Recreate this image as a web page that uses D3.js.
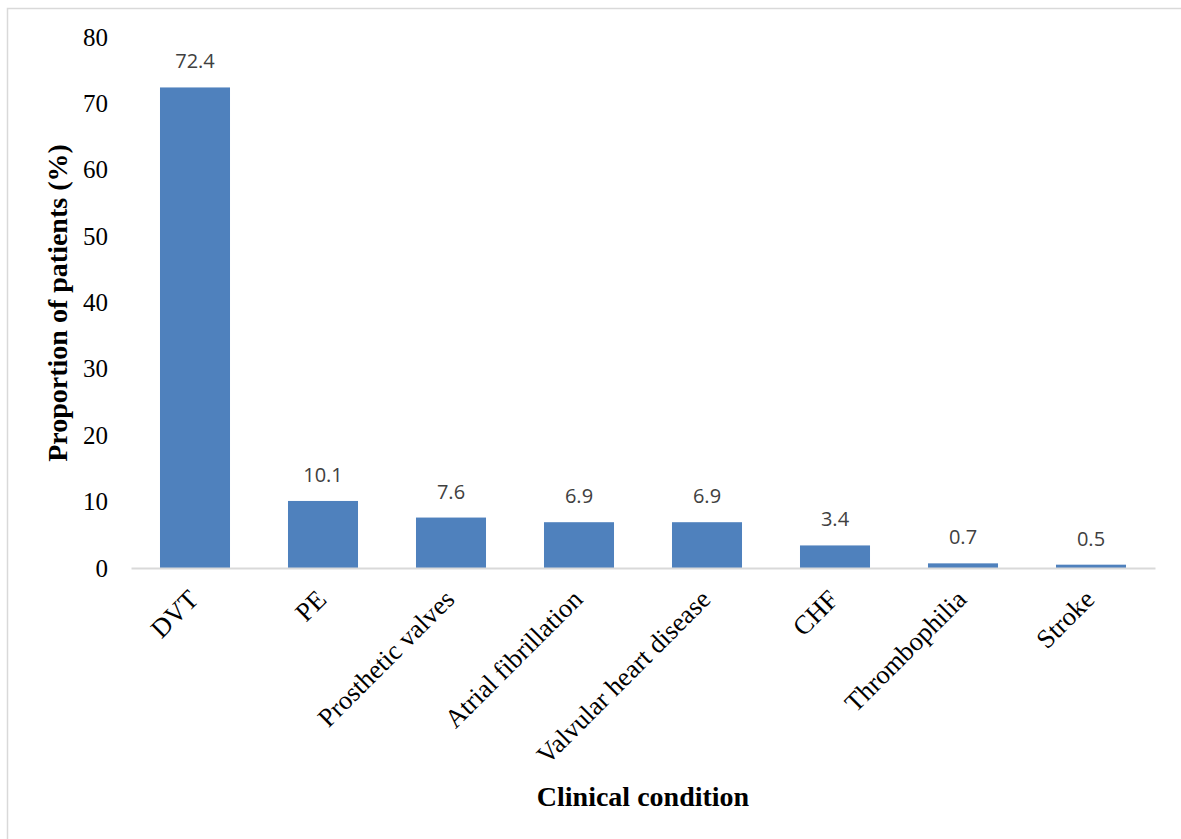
<!DOCTYPE html>
<html>
<head>
<meta charset="utf-8">
<script src="https://cdn.jsdelivr.net/npm/d3@7"></script>
<style>
  html, body { margin: 0; padding: 0; background: #fff; }
  svg { display: block; }
</style>
</head>
<body>
<svg id="chart" width="1181" height="839"></svg>
<script>
// Clinical conditions and the share of patients with each (%)
const conditions = ["DVT", "PE", "Prosthetic valves", "Atrial fibrillation",
  "Valvular heart disease", "CHF", "Thrombophilia", "Stroke"];
const proportions = [72.4, 10.1, 7.6, 6.9, 6.9, 3.4, 0.7, 0.5];
const yTicks = [0, 10, 20, 30, 40, 50, 60, 70, 80];

const svg = d3.select("#chart");
const W = 1181, H = 839;
const plot = { left: 131, right: 1155, top: 37, bottom: 568 };

// outer frame
svg.append("rect")
  .attr("x", 7.5).attr("y", 8.5)
  .attr("width", W).attr("height", H)
  .attr("fill", "none").attr("stroke", "#d9d9d9").attr("stroke-width", 1.5);

const x = d3.scaleBand()
  .domain(conditions)
  .range([plot.left, plot.right])
  .paddingInner(0.453)
  .paddingOuter(0.2265);

const y = d3.scaleLinear()
  .domain([0, 80])
  .range([plot.bottom, plot.top]);

const serif = "'Liberation Serif', 'Times New Roman', serif";

// y axis tick labels (no axis line, no ticks)
const yAxis = d3.axisLeft(y).tickValues(yTicks).tickSize(0).tickPadding(0).tickFormat(d3.format("d"));
const gy = svg.append("g").attr("transform", "translate(108,0)").call(yAxis);
gy.select(".domain").remove();
gy.selectAll("text")
  .attr("font-family", serif).attr("font-size", 25).attr("fill", "#000");

// bars
svg.append("g").selectAll("rect")
  .data(conditions)
  .join("rect")
  .attr("x", d => x(d))
  .attr("width", x.bandwidth())
  .attr("y", (d, i) => y(proportions[i]))
  .attr("height", (d, i) => y(0) - y(proportions[i]))
  .attr("fill", "#4f81bd");

// baseline and rotated category labels
const xAxis = d3.axisBottom(x).tickSize(0).tickPadding(0);
const gx = svg.append("g").attr("transform", `translate(0,${y(0)})`).call(xAxis);
gx.select(".domain").attr("stroke", "#d9d9d9").attr("stroke-width", 2);
gx.selectAll("text")
  .attr("font-family", serif).attr("font-size", 26.5).attr("fill", "#000")
  .attr("text-anchor", "end")
  .attr("dy", null)
  .attr("y", 0)
  .attr("transform", "translate(5,33) rotate(-45)");

// value labels
svg.append("g").selectAll("text")
  .data(conditions)
  .join("text")
  .attr("x", d => x(d) + x.bandwidth() / 2)
  .attr("y", (d, i) => y(proportions[i]) - 19)
  .attr("text-anchor", "middle")
  .attr("font-family", "'Open Sans', sans-serif")
  .attr("font-size", 20)
  .attr("fill", "#404040")
  .text((d, i) => proportions[i]);

// axis titles
svg.append("text")
  .attr("transform", "translate(67,303) rotate(-90)")
  .attr("text-anchor", "middle")
  .attr("font-family", serif).attr("font-weight", "bold").attr("font-size", 28)
  .text("Proportion of patients (%)");

svg.append("text")
  .attr("x", 643).attr("y", 806)
  .attr("text-anchor", "middle")
  .attr("font-family", serif).attr("font-weight", "bold").attr("font-size", 28)
  .text("Clinical condition");
</script>
</body>
</html>
